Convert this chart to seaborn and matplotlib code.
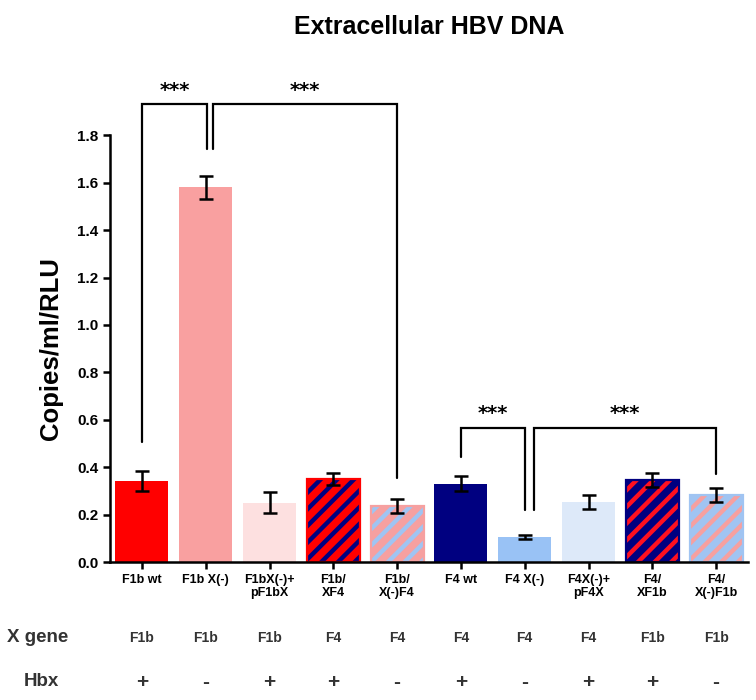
import matplotlib
matplotlib.use("Agg")
import matplotlib.pyplot as plt
import matplotlib.transforms as mtransforms
import seaborn as sns
import pandas as pd

# values
labels = ["F1b wt", "F1b X(-)", "F1bX(-)+\npF1bX", "F1b/\nXF4", "F1b/\nX(-)F4",
          "F4 wt", "F4 X(-)", "F4X(-)+\npF4X", "F4/\nXF1b", "F4/\nX(-)F1b"]
means = [0.34, 1.58, 0.25, 0.35, 0.236, 0.33, 0.105, 0.253, 0.346, 0.283]
errs = [0.042, 0.048, 0.044, 0.025, 0.028, 0.031, 0.01, 0.028, 0.028, 0.03]
fill_colors = ["#ff0000", "#f9a0a0", "#fde0e0", "#ff0000", "#f6a0a0",
               "#000080", "#99c2f5", "#dde9f9", "#000080", "#a0c4f2"]
stripe_colors = [None, None, None, "#000080", "#a0c4f2",
                 None, None, None, "#ff1020", "#f6a0a0"]
x_gene = ["F1b", "F1b", "F1b", "F4", "F4", "F4", "F4", "F4", "F1b", "F1b"]
hbx = ["+", "-", "+", "+", "-", "+", "-", "+", "+", "-"]

# significance brackets: (left bar, right bar, y of bar, left drop, right drop)
brackets = [(0, 1.02, 1.93, 0.506, 1.74), (1.11, 4, 1.93, 1.74, 0.354),
            (5, 6.0, 0.565, 0.443, 0.219), (6.15, 9, 0.565, 0.219, 0.371)]

sns.set_style("ticks")
plt.rcParams["font.family"] = ["Liberation Sans", "DejaVu Sans"]
plt.rcParams["hatch.linewidth"] = 3.2
for key in ["text.color", "axes.labelcolor", "xtick.color", "ytick.color", "axes.edgecolor"]:
    plt.rcParams[key] = "black"

df = pd.DataFrame({"group": labels, "value": means})

fig = plt.figure(figsize=(7.56, 7.0), dpi=100)
ax = fig.add_axes([110 / 756, 138 / 700, 638 / 756, 486 / 700])

sns.barplot(data=df, x="group", y="value", hue="group", palette=fill_colors,
            errorbar=None, width=0.83, legend=False, ax=ax, saturation=1)

for i, patch in enumerate(ax.patches[:len(labels)]):
    patch.set_linewidth(0)
    if stripe_colors[i]:
        # hatch takes the edge colour, so overlay a hatched bar and a border
        ax.bar(i, means[i], width=0.83, facecolor="none", edgecolor=stripe_colors[i],
               hatch="//", linewidth=0, zorder=2)
        ax.bar(i, means[i], width=0.83, facecolor="none", edgecolor=fill_colors[i],
               linewidth=1.6, zorder=2.5)

ax.errorbar(range(len(labels)), means, yerr=errs, fmt="none", ecolor="black",
            elinewidth=1.8, capsize=5, capthick=1.8, zorder=3)

for x0, x1, ytop, yl, yr in brackets:
    ax.plot([x0, x0, x1, x1], [yl, ytop, ytop, yr], color="black", lw=1.6,
            clip_on=False, solid_joinstyle="miter")
    ax.text((x0 + x1) / 2, ytop + 0.06, "***", ha="center", va="center",
            fontsize=14, fontweight="bold", family="DejaVu Sans", clip_on=False)

ax.set_xlim(-0.5, 9.5)
ax.set_ylim(0, 2.05)
ax.set_yticks([0, 0.2, 0.4, 0.6, 0.8, 1.0, 1.2, 1.4, 1.6, 1.8])
ax.set_yticklabels([f"{v:.1f}" for v in ax.get_yticks()], fontweight="bold", fontsize=11)
ax.set_xticks(range(len(labels)))
ax.set_xticklabels(labels, fontweight="bold", fontsize=9, linespacing=1.15)
ax.spines["top"].set_visible(False)
ax.spines["right"].set_visible(False)
ax.spines["left"].set_bounds(0, 1.8)
ax.spines["left"].set_linewidth(1.8)
ax.spines["bottom"].set_linewidth(1.8)
ax.tick_params(axis="both", width=1.8, length=5, color="black")
ax.set_xlabel("")
ax.set_ylabel("Copies/ml/RLU", fontsize=18.5, fontweight="bold")
ax.yaxis.set_label_coords(-0.074, 0.9 / 2.05)
ax.set_title("Extracellular HBV DNA", fontsize=18, fontweight="bold", pad=30)

# rows under the chart
trans = mtransforms.blended_transform_factory(ax.transData, fig.transFigure)
row_color = "#333333"
fig.text(0.009, 1 - 638 / 700, "X gene", fontsize=13.5, fontweight="bold", va="center",
         ha="left", color=row_color)
fig.text(41 / 756, 1 - 682 / 700, "Hbx", fontsize=13.5, fontweight="bold", va="center",
         ha="center", color=row_color)
for i in range(len(labels)):
    ax.text(i, 1 - 638 / 700, x_gene[i], transform=trans, ha="center", va="center",
            fontsize=10, fontweight="bold", color=row_color)
    ax.text(i, 1 - 682 / 700, hbx[i], transform=trans, ha="center", va="center",
            fontsize=15, fontweight="bold", color=row_color)

fig.savefig("out.png", dpi=100)
